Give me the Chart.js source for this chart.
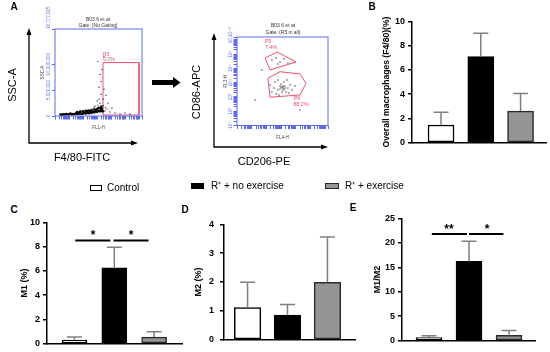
<!DOCTYPE html>
<html>
<head>
<meta charset="utf-8">
<script src="https://cdn.jsdelivr.net/npm/chart.js@4.4.1/dist/chart.umd.min.js"></script>
<style>
body { margin: 0; width: 550px; height: 352px; background: #fff; position: relative; overflow: hidden; font-family: "Liberation Sans", Arial, sans-serif; }
canvas { position: absolute; }
.t { position: absolute; white-space: nowrap; line-height: 1; transform: translate(-50%, -50%); }
.rot { transform: translate(-50%, -50%) rotate(-90deg); }
.panel { font-weight: bold; font-size: 10px; }
.box { position: absolute; box-sizing: border-box; }
.leg { position: absolute; font-size: 10px; line-height: 12px; white-space: nowrap; }
</style>
</head>
<body>

<canvas id="flow1" width="185" height="175" style="left:0;top:0"></canvas>
<canvas id="flow2" width="185" height="175" style="left:185px;top:0"></canvas>
<canvas id="chartB" width="169" height="138" style="left:381px;top:13px"></canvas>
<canvas id="chartC" width="167" height="138" style="left:19px;top:214px"></canvas>
<canvas id="chartD" width="166" height="138" style="left:193px;top:213px"></canvas>
<canvas id="chartE" width="167" height="139" style="left:372px;top:210px"></canvas>

<script>
// ========== DATA ==========
const groups = ['Control', 'R\u207A + no exercise', 'R\u207A + exercise'];
const barFill = ['#ffffff', '#000000', '#959595'];
const barBorder = ['#000000', '#000000', '#2a2a2a'];

// B - overall macrophages
const macroMean = [1.45, 7.1, 2.6];
const macroErr = [1.05, 1.93, 1.45];
const macroTicks = [0, 2, 4, 6, 8, 10];
// C - M1
const m1Mean = [0.3, 6.25, 0.54];
const m1Err = [0.24, 1.69, 0.43];
const m1Ticks = [0, 2, 4, 6, 8, 10];
const m1Sig = [
    { from: 0.02, to: 0.9, y: 8.5, mark: '*', at: 0.47 },
    { from: 0.98, to: 1.86, y: 8.5, mark: '*', at: 1.42 }
];
// D - M2
const m2Mean = [1.11, 0.85, 1.99];
const m2Err = [0.88, 0.37, 1.57];
const m2Ticks = [0, 1, 2, 3, 4];
// E - M1/M2
const ratioMean = [0.6, 16.2, 1.06];
const ratioErr = [0.4, 4.1, 1.0];
const ratioTicks = [0, 5, 10, 15, 20, 25];
const ratioSig = [
    { from: 0.07, to: 0.95, y: 21.8, mark: '**', at: 0.5 },
    { from: 1.0, to: 1.86, y: 21.8, mark: '*', at: 1.45 }
];

// A - flow plots (x in log decades, SSC in millions)
const decadeTicks = [1, 2, 3, 4, 5, 6, 7, 7.2];
const decadeLabels = ['10\u00B9', '10\u00B2', '10\u00B3', '10\u2074', '10\u2075', '10\u2076', '10\u2077', '10\u2077\u00B7\u00B2'];
const sscTicks = [0, 5, 10, 16.777215];
const sscLabels = ['0', '5,000,000', '10,000,000', '16,777,215'];

const band1 = [
    [1.4,0.3],[1.5,0.25],[1.6,0.35],[1.7,0.3],[1.8,0.4],[1.9,0.3],[2.0,0.35],[2.1,0.45],[2.2,0.3],[2.3,0.4],
    [2.4,0.35],[2.5,0.5],[2.6,0.4],[2.7,0.45],[2.8,0.55],[2.9,0.4],[3.0,0.5],[3.1,0.6],[3.2,0.5],[3.3,0.65],
    [3.4,0.55],[3.5,0.7],[3.6,0.6],[3.7,0.8],[3.8,0.7],[3.9,0.9],[4.0,0.8],[4.1,1.0],[4.2,0.9],[4.3,1.1],[4.4,0.9],
    [2.6,0.75],[2.8,0.85],[3.0,0.9],[3.2,1.0],[3.4,1.05],[3.6,1.1],[3.8,1.25],[4.0,1.35],[4.2,1.5],[4.35,1.4],
    [3.9,1.2],[4.1,1.6],[4.3,1.8],[3.5,0.95],[3.3,0.9]
];
const scatter1 = [
    [3.92,1.33],[4.06,2.10],[4.14,3.24],[4.28,4.19],[4.21,2.48],[4.35,1.72],[3.99,0.95],[4.42,3.24],[4.49,5.15],
    [4.14,5.53],[4.28,6.67],[4.21,8.01],[4.06,10.49],[4.49,11.44],[4.35,8.96],[3.78,1.72],[3.64,1.33],[4.56,0.95],
    [4.71,1.33],[4.92,0.76],[5.06,1.53],[4.78,2.48],[5.28,0.57],[5.63,0.38],[5.99,0.57],[6.34,0.38],[4.63,4.0],
    [3.35,1.14],[3.14,0.95],[4.0,2.9],[3.85,1.9],[4.45,2.0],[4.6,1.6],[2.9,0.9],[2.5,0.8]
];
const r5Gate = [[4.42,0.19],[4.42,10.3],[6.99,10.3],[6.99,0.19],[4.42,0.19]];

const cloud2 = [
    [3.25,3.84],[3.59,4.05],[3.79,3.49],[3.93,3.77],[4.07,3.63],[4.13,3.70],[4.20,3.56],[4.27,3.77],[4.13,3.49],
    [4.00,3.91],[4.34,3.35],[4.47,3.63],[4.61,3.84],[3.79,4.19],[3.38,3.35],[3.66,3.21],[4.75,3.49],[4.95,3.77],
    [4.41,4.19],[3.86,3.14],[4.20,4.05],[4.54,3.28],[3.52,3.63],[4.07,3.35],[3.93,3.56],[4.27,3.63],[4.13,3.77],[4.00,3.70],
    [3.38,5.59],[3.66,5.73],[3.93,5.45],[4.20,5.66],[3.79,5.31],[4.47,5.38],
    [2.70,4.89],[5.29,2.09],[2.23,2.79]
];
const p5Gate = [[2.91,5.73],[3.73,6.15],[5.02,5.45],[3.25,4.89],[2.91,5.73]];
const p6Gate = [[3.11,4.31],[3.93,4.77],[5.29,4.61],[5.70,3.96],[5.29,3.14],[3.25,2.98],[3.11,4.31]];

// ========== STYLE ==========
const FONT = '"Liberation Sans", Arial, sans-serif';
const flowBlue = '#5a6cf0';
const gateRed = '#f04f6c';
Chart.defaults.font.family = FONT;
const pts = arr => arr.map(p => ({ x: p[0], y: p[1] }));

// ========== HTML TEXT ==========
function addText(txt, cx, cy, css, cls) {
    const d = document.createElement('div');
    d.className = 't ' + (cls || '');
    d.textContent = txt;
    d.style.left = cx + 'px';
    d.style.top = cy + 'px';
    if (css) d.style.cssText += css;
    document.body.appendChild(d);
}
[['A', 14, 7], ['B', 372, 7], ['C', 14, 210], ['D', 185, 210], ['E', 353, 208]].forEach(p => addText(p[0], p[1], p[2], '', 'panel'));

addText('SSC-A', 12, 85, 'font-size:11px', 'rot');
addText('F4/80-FITC', 82, 157, 'font-size:11px');
addText('CD86-APC', 196, 92, 'font-size:11px', 'rot');
addText('CD206-PE', 264, 161, 'font-size:11px');
addText('B03 6 et at', 98, 19, 'font-size:5px;color:#333');
addText('Gate: [No Gating]', 98, 25, 'font-size:5px;color:#333');
addText('B03 6 et at', 283, 25, 'font-size:5px;color:#333');
addText('Gate: (R5 in all)', 283, 32, 'font-size:5px;color:#333');
addText('R5', 106, 54, 'font-size:5px;color:' + gateRed);
addText('0.7%', 109, 59, 'font-size:5px;color:' + gateRed);
addText('P5', 268, 42, 'font-size:5.5px;color:' + gateRed);
addText('7.4%', 271, 48, 'font-size:5.5px;color:' + gateRed);
addText('P6', 297, 99, 'font-size:5.5px;color:' + gateRed);
addText('88.2%', 301, 105, 'font-size:5.5px;color:' + gateRed);

// legend
const legendPos = [
    { bx: 90, by: 184.5, bw: 12, bh: 6, tx: 107, ty: 182 },
    { bx: 191, by: 182.5, bw: 13, bh: 6.5, tx: 211, ty: 180 },
    { bx: 325, by: 182.5, bw: 14, bh: 6.5, tx: 345, ty: 180 }
];
groups.forEach((g, i) => {
    const p = legendPos[i];
    const b = document.createElement('div');
    b.className = 'box';
    b.style.cssText = `left:${p.bx}px;top:${p.by}px;width:${p.bw}px;height:${p.bh}px;background:${barFill[i]};border:1.2px solid ${barBorder[i]}`;
    document.body.appendChild(b);
    const t = document.createElement('div');
    t.className = 'leg';
    t.style.left = p.tx + 'px';
    t.style.top = p.ty + 'px';
    t.textContent = g;
    document.body.appendChild(t);
});

// ========== PLUGINS ==========
const errorBars = {
    id: 'errorBars',
    afterDatasetsDraw(chart, args, o) {
        const { ctx, scales: { x, y } } = chart;
        const meta = chart.getDatasetMeta(0);
        ctx.save();
        ctx.strokeStyle = '#808080';
        ctx.lineWidth = 1.5;
        o.err.forEach((e, i) => {
            const bar = meta.data[i];
            const top = y.getPixelForValue(chart.data.datasets[0].data[i].y + e);
            ctx.beginPath();
            ctx.moveTo(bar.x, bar.y);
            ctx.lineTo(bar.x, top);
            ctx.moveTo(bar.x - o.cap, top);
            ctx.lineTo(bar.x + o.cap, top);
            ctx.stroke();
        });
        ctx.strokeStyle = '#000';
        ctx.fillStyle = '#000';
        ctx.lineWidth = 2;
        ctx.font = 'bold 12px ' + FONT;
        ctx.textAlign = 'center';
        ctx.textBaseline = 'alphabetic';
        (o.sig || []).forEach(s => {
            const py = y.getPixelForValue(s.y);
            ctx.beginPath();
            ctx.moveTo(x.getPixelForValue(s.from), py);
            ctx.lineTo(x.getPixelForValue(s.to), py);
            ctx.stroke();
            ctx.fillText(s.mark, x.getPixelForValue(s.at), py - 1.5);
        });
        ctx.restore();
    }
};

const flowFrame = {
    id: 'flowFrame',
    afterDraw(chart, args, o) {
        const { ctx, chartArea: a, scales: { y } } = chart;
        ctx.save();
        ctx.strokeStyle = flowBlue;
        ctx.lineWidth = 1;
        ctx.strokeRect(a.left, a.top, a.right - a.left, a.bottom - a.top);
        // rotated y labels
        ctx.fillStyle = flowBlue;
        ctx.font = '4.5px ' + FONT;
        ctx.textBaseline = 'bottom';
        o.yTicks.forEach((v, i) => {
            const py = y.getPixelForValue(v);
            ctx.save();
            ctx.translate(a.left - 4, py);
            ctx.rotate(-Math.PI / 2);
            ctx.textAlign = i === o.yTicks.length - 1 ? 'left' : 'center';
            ctx.fillText(o.yLabels[i], 0, 0);
            ctx.restore();
        });
        // axis names
        ctx.fillStyle = '#444';
        ctx.font = '4.5px ' + FONT;
        ctx.textAlign = 'center';
        ctx.textBaseline = 'middle';
        ctx.fillText(o.xName, (a.left + a.right) / 2, a.bottom + 12);
        ctx.save();
        ctx.translate(a.left - o.yNameGap, (a.top + a.bottom) / 2);
        ctx.rotate(-Math.PI / 2);
        ctx.fillText(o.yName, 0, 0);
        ctx.restore();
        // outer black axes with arrow heads
        const [ox, oy, ty, tx] = o.outer;
        ctx.strokeStyle = '#000';
        ctx.fillStyle = '#000';
        ctx.lineWidth = 1.3;
        ctx.beginPath();
        ctx.moveTo(ox, ty + 5);
        ctx.lineTo(ox, oy);
        ctx.lineTo(tx - 5, oy);
        ctx.stroke();
        ctx.beginPath();
        ctx.moveTo(ox - 2.5, ty + 7); ctx.lineTo(ox, ty); ctx.lineTo(ox + 2.5, ty + 7);
        ctx.closePath(); ctx.fill();
        ctx.beginPath();
        ctx.moveTo(tx - 7, oy - 2.5); ctx.lineTo(tx, oy); ctx.lineTo(tx - 7, oy + 2.5);
        ctx.closePath(); ctx.fill();
        if (o.bigArrow) {
            ctx.beginPath();
            ctx.moveTo(152, 80); ctx.lineTo(173, 80); ctx.lineTo(173, 77);
            ctx.lineTo(180.5, 82.5); ctx.lineTo(173, 88); ctx.lineTo(173, 85); ctx.lineTo(152, 85);
            ctx.closePath(); ctx.fill();
        }
        ctx.restore();
    }
};

// ========== FLOW PLOTS ==========
function decadeAxis(min, max, hide) {
    return {
        type: 'linear', min: min, max: max,
        afterBuildTicks: s => {
            const t = [];
            decadeTicks.forEach(v => {
                t.push({ value: v });
                if (v < 7) for (let k = 2; k <= 9; k++) t.push({ value: v + Math.log10(k) });
            });
            s.ticks = t;
        },
        ticks: {
            display: !hide, autoSkip: false, minRotation: 45, maxRotation: 45, color: flowBlue, font: { size: 4.5 }, padding: 0,
            callback: v => { const i = decadeTicks.indexOf(v); return i >= 0 ? decadeLabels[i] : ''; }
        },
        grid: { drawOnChartArea: false, tickLength: 3.5, color: flowBlue, lineWidth: 1 },
        border: { display: false }
    };
}

function flowChart(id, sets, pad, xAx, yAx, deco) {
    return new Chart(document.getElementById(id), {
        type: 'scatter',
        data: { datasets: sets },
        options: {
            responsive: false, animation: false, devicePixelRatio: 1,
            layout: { padding: pad },
            plugins: { legend: { display: false }, tooltip: { enabled: false }, flowFrame: deco },
            scales: {
                x: Object.assign(xAx, { afterFit: s => { s.height = 0; } }),
                y: Object.assign(yAx, { afterFit: s => { s.width = 0; } })
            }
        },
        plugins: [flowFrame]
    });
}

const gateLine = { showLine: true, pointRadius: 0, borderColor: gateRed, borderWidth: 1, fill: false };

flowChart('flow1', [
    { data: pts(band1), pointRadius: 1.3, backgroundColor: '#000', borderWidth: 0 },
    { data: pts(scatter1), pointRadius: 0.7, backgroundColor: '#333', borderWidth: 0 },
    Object.assign({ data: pts(r5Gate) }, gateLine)
], { left: 55, top: 29, right: 43, bottom: 59 },
    decadeAxis(1, 7.2),
    {
        type: 'linear', min: 0, max: 16.777215,
        afterBuildTicks: s => { s.ticks = sscTicks.map(v => ({ value: v })); },
        ticks: { display: false },
        grid: { drawOnChartArea: false, tickLength: 3, color: flowBlue, lineWidth: 1 },
        border: { display: false }
    },
    { yTicks: sscTicks, yLabels: sscLabels, xName: 'FL1-H', yName: 'SSC-A', yNameGap: 12, outer: [29, 143, 28, 138], bigArrow: true }
);

flowChart('flow2', [
    { data: pts(cloud2), pointRadius: 0.7, backgroundColor: '#333', borderWidth: 0 },
    Object.assign({ data: pts(p5Gate) }, gateLine),
    Object.assign({ data: pts(p6Gate) }, gateLine)
], { left: 52, top: 37, right: 42, bottom: 49.5 },
    decadeAxis(1, 7.2),
    decadeAxis(1, 7.2, true),
    { yTicks: decadeTicks, yLabels: decadeLabels, xName: 'FL4-H', yName: 'FL3-H', yNameGap: 11, outer: [29, 147, 33, 143], bigArrow: false }
);

// ========== BAR PANELS ==========
function barPanel(id, mean, err, o) {
    return new Chart(document.getElementById(id), {
        type: 'bar',
        data: {
            datasets: [{
                data: mean.map((v, i) => ({ x: i, y: v })),
                backgroundColor: barFill,
                borderColor: barBorder,
                borderWidth: 1.5,
                borderSkipped: false,
                barThickness: o.bw
            }]
        },
        options: {
            responsive: false, animation: false, devicePixelRatio: 1,
            layout: { padding: { top: 8, right: 4, bottom: 6, left: 0 } },
            plugins: {
                legend: { display: false }, tooltip: { enabled: false },
                errorBars: { err: err, cap: 7.5, sig: o.sig }
            },
            scales: {
                x: {
                    type: 'linear', min: o.xmin, max: o.xmax, offset: false,
                    ticks: { display: false },
                    grid: { display: false },
                    border: { display: true, color: '#000', width: 1.5 },
                    afterFit: s => { s.height = 0; }
                },
                y: {
                    min: 0, max: o.ticks[o.ticks.length - 1],
                    afterBuildTicks: s => { s.ticks = o.ticks.map(v => ({ value: v })); },
                    ticks: { color: '#000', font: { weight: 'bold', size: 9 }, padding: o.tpad || 3, callback: v => String(v) },
                    grid: { display: true, drawOnChartArea: false, drawTicks: true, tickLength: 4, color: '#000', lineWidth: 1.5 },
                    border: { display: true, color: '#000', width: 1.5 },
                    title: { display: true, text: o.title, color: '#000', font: { weight: 'bold', size: o.tsize || 9 }, padding: { top: 0, bottom: 2 } },
                    afterFit: s => { s.width = o.yw; }
                }
            }
        },
        plugins: [errorBars]
    });
}

barPanel('chartB', macroMean, macroErr, { ticks: macroTicks, title: 'Overall macrophages (F4/80)(%)', tsize: 8.6, yw: 31, xmin: -0.73, xmax: 2.64, bw: 26 });
barPanel('chartC', m1Mean, m1Err, { ticks: m1Ticks, title: 'M1 (%)', yw: 28, xmin: -0.69, xmax: 2.70, bw: 25, sig: m1Sig });
barPanel('chartD', m2Mean, m2Err, { ticks: m2Ticks, title: 'M2 (%)', yw: 31, xmin: -0.59, xmax: 2.69, bw: 26.5, tpad: 6 });
barPanel('chartE', ratioMean, ratioErr, { ticks: ratioTicks, title: 'M1/M2', yw: 30, xmin: -0.675, xmax: 2.65, bw: 26, sig: ratioSig });
</script>
</body>
</html>
